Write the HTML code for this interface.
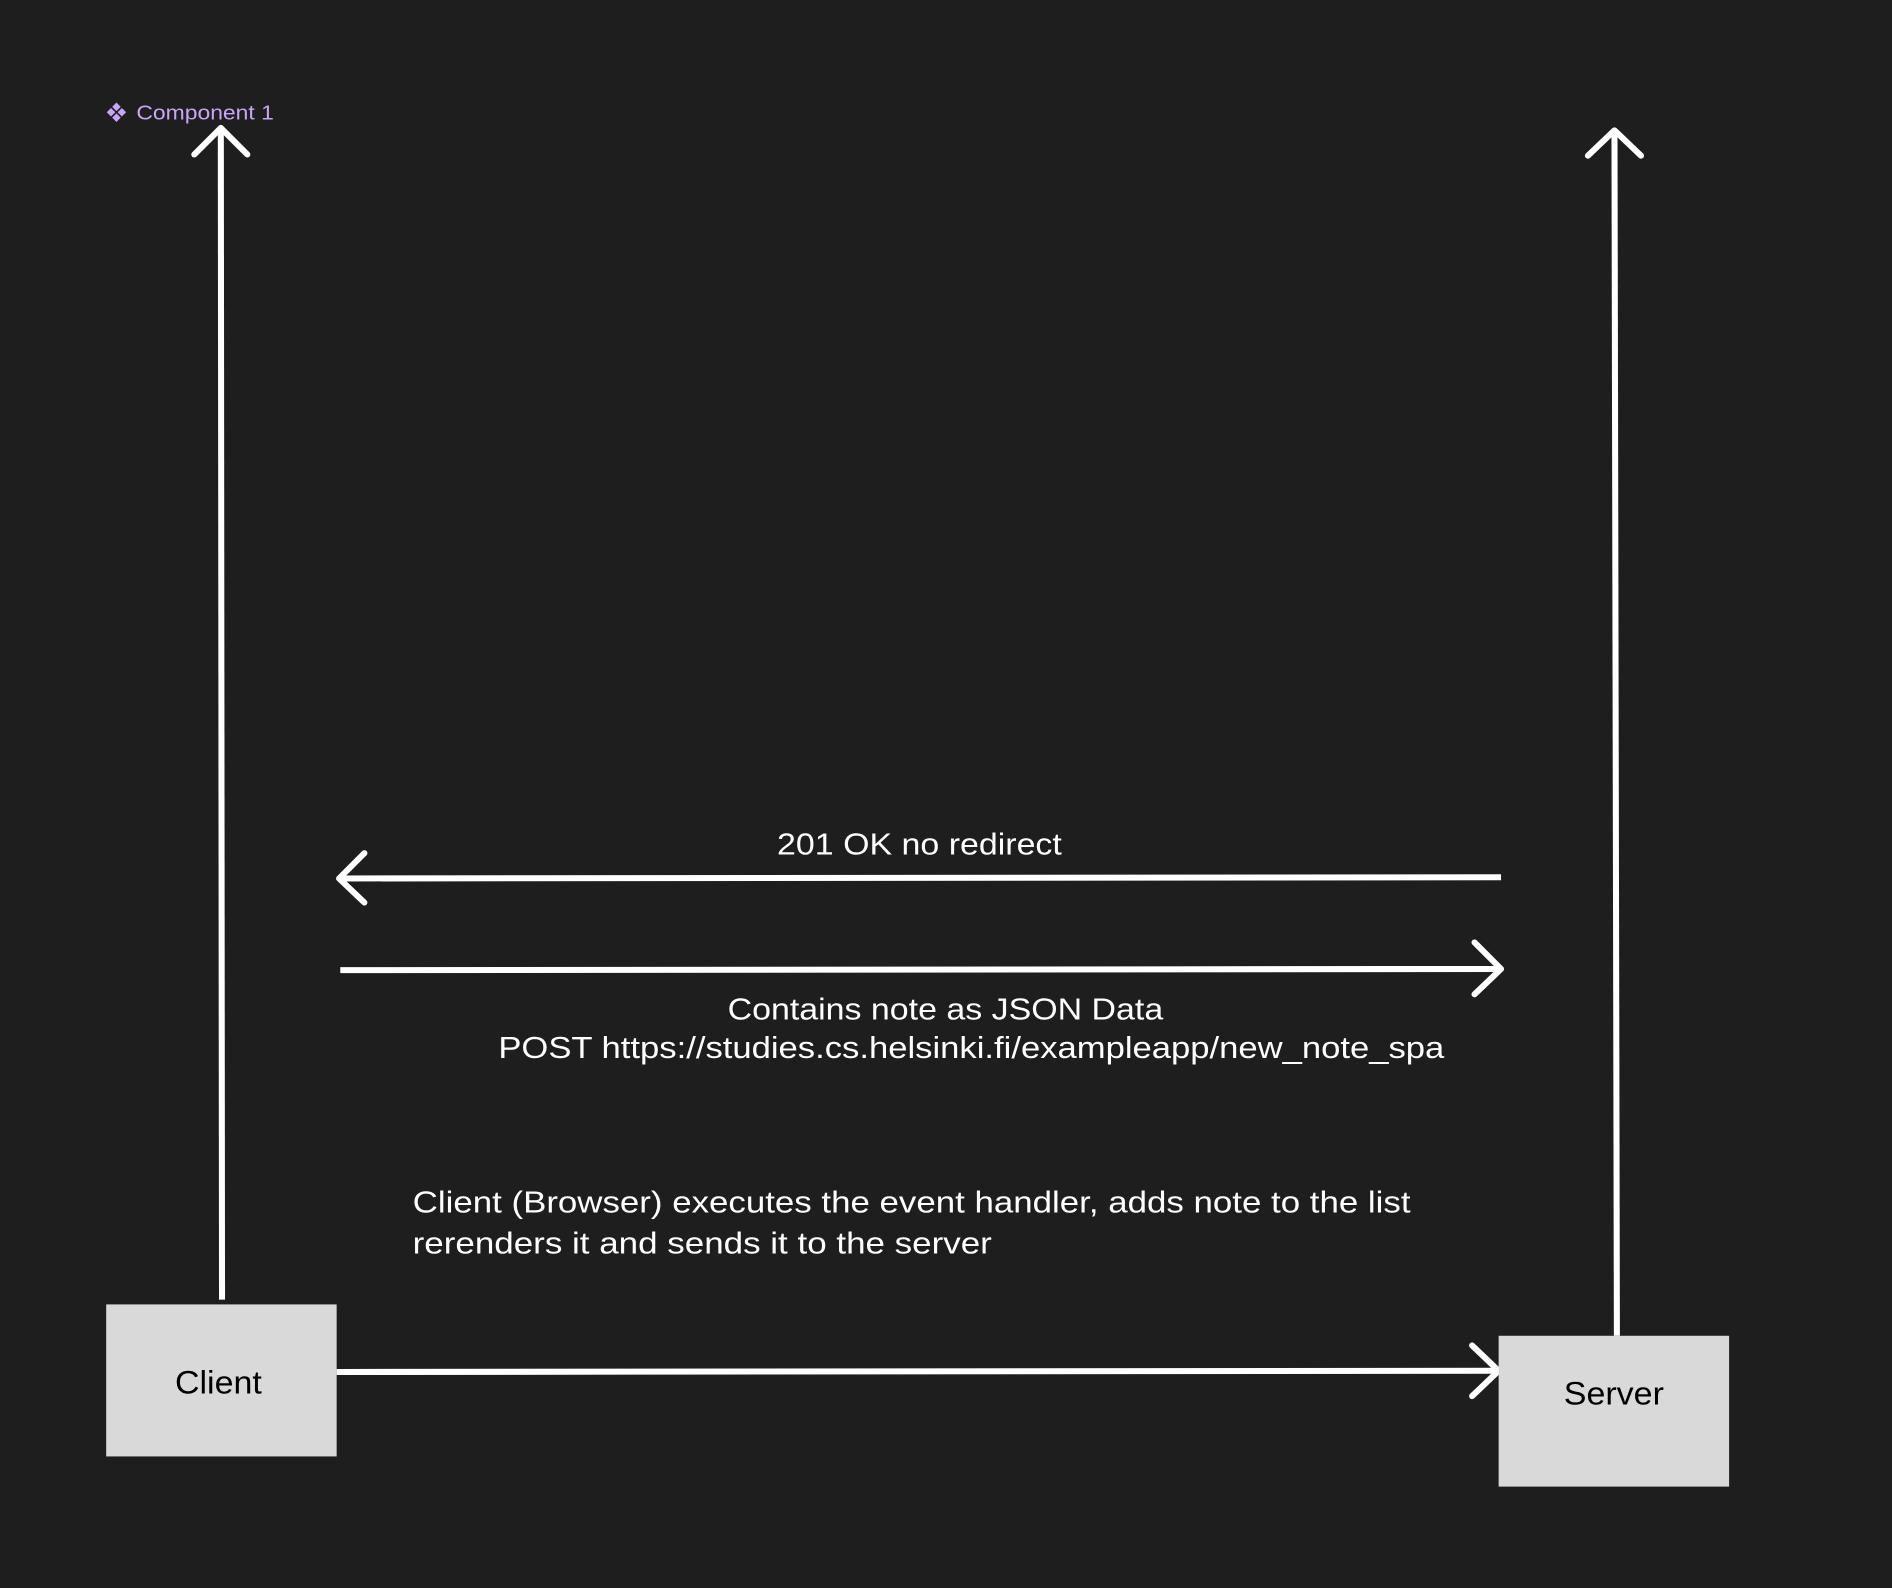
<!DOCTYPE html>
<html><head><meta charset="utf-8"><style>
html,body{margin:0;padding:0;background:#1e1e1e;}
svg{display:block;}
text{font-family:"Liberation Sans",sans-serif;}
</style></head><body>
<svg width="1892" height="1588" viewBox="0 0 1568 1316" xmlns="http://www.w3.org/2000/svg">
<rect width="1568" height="1316" fill="#1e1e1e"/>
<g fill="#c9a4f7">
<rect x="94" y="86" width="5" height="5" transform="rotate(45 96.5 88.5)"/>
<rect x="94" y="95" width="5" height="5" transform="rotate(45 96.5 97.5)"/>
<rect x="89.5" y="90.5" width="5" height="5" transform="rotate(45 92 93)"/>
<rect x="98.5" y="90.5" width="5" height="5" transform="rotate(45 101 93)"/>
<text x="113" y="99" font-size="17" textLength="114" lengthAdjust="spacingAndGlyphs">Component 1</text>
</g>
<g stroke="#fff" stroke-width="5" fill="none" stroke-linecap="round" stroke-linejoin="round">
<line x1="184" y1="1077" x2="183" y2="106" stroke-linecap="butt"/>
<polyline points="161,128 183,106 205,128"/>
<line x1="1340" y1="1107" x2="1338" y2="108" stroke-linecap="butt"/>
<polyline points="1316,129 1338,108 1360,129"/>
<line x1="1244" y1="727" x2="282" y2="728" stroke-linecap="butt"/>
<polyline points="302,707 281,728 302,748"/>
<line x1="282" y1="804" x2="1244" y2="803" stroke-linecap="butt"/>
<polyline points="1222,781 1244,803 1222,824"/>
<line x1="279" y1="1137" x2="1242" y2="1136" stroke-linecap="butt"/>
<polyline points="1220,1115 1242,1136 1220,1157"/>
</g>
<rect x="88" y="1081" width="191" height="126" fill="#d9d9d9"/>
<rect x="1242" y="1107" width="191" height="125" fill="#d9d9d9"/>
<text x="145" y="1155" font-size="27" textLength="72" lengthAdjust="spacingAndGlyphs" fill="#000">Client</text>
<text x="1296" y="1164" font-size="27" textLength="83" lengthAdjust="spacingAndGlyphs" fill="#000">Server</text>
<g fill="#fff" font-size="25">
<text x="644" y="708" textLength="236" lengthAdjust="spacingAndGlyphs">201 OK no redirect</text>
<text x="603" y="845" textLength="361" lengthAdjust="spacingAndGlyphs">Contains note as JSON Data</text>
<text x="413" y="877" textLength="784" lengthAdjust="spacingAndGlyphs">POST https://studies.cs.helsinki.fi/exampleapp/new_note_spa</text>
<text x="342" y="1005" textLength="827" lengthAdjust="spacingAndGlyphs">Client (Browser) executes the event handler, adds note to the list</text>
<text x="342" y="1039" textLength="480" lengthAdjust="spacingAndGlyphs">rerenders it and sends it to the server</text>
</g>
</svg>
</body></html>
